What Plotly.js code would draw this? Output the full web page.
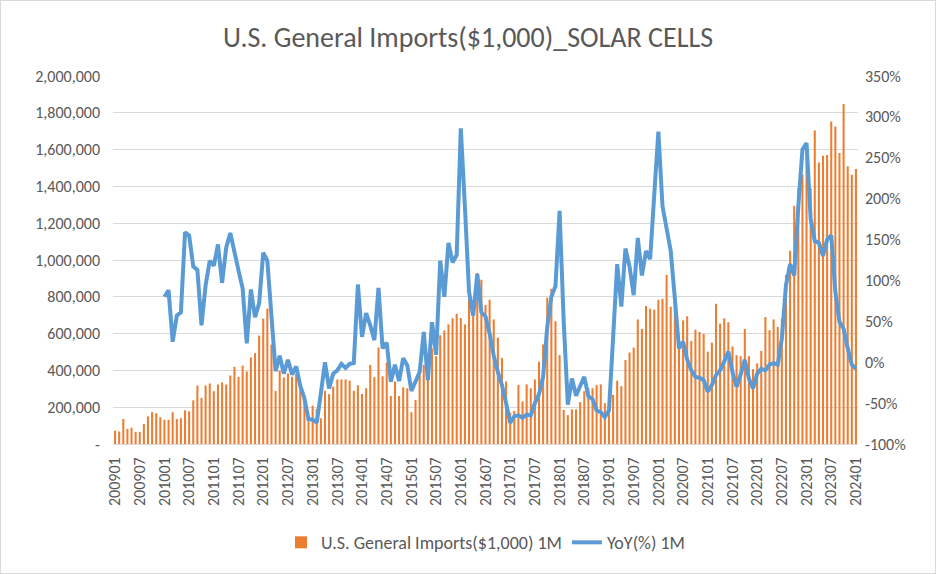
<!DOCTYPE html>
<html>
<head>
<meta charset="utf-8">
<script src="https://cdn.plot.ly/plotly-3.0.1.min.js"></script>
<style>
  html, body { margin: 0; padding: 0; background: #fff; }
  #chart { width: 934px; height: 572px; border: 1px solid #D9D9D9; }
</style>
</head>
<body>
<div id="chart"></div>
<script>
// Month categories 200901 .. 202401
const months = [];
for (let y = 2009; y <= 2024; y++) {
  for (let m = 1; m <= 12; m++) {
    if (y === 2024 && m > 1) break;
    months.push(String(y) + String(m).padStart(2, '0'));
  }
}

// U.S. General Imports ($1,000), monthly
const imports = [
  72000, 68000, 136000, 82000, 88000, 66000, 66000, 109000, 150000, 173000, 167000, 145000,
  131000, 131000, 173000, 136000, 140000, 183000, 177000, 237000, 318000, 251000, 318000, 329000,
  287000, 323000, 335000, 323000, 372000, 419000, 365000, 426000, 394000, 470000, 494000, 589000,
  681000, 736000, 540000, 288000, 399000, 362000, 384000, 366000, 382000, 312000, 254000, 122000,
  209000, 190000, 140000, 289000, 271000, 312000, 351000, 351000, 351000, 344000, 289000, 319000,
  272000, 303000, 430000, 363000, 524000, 368000, 442000, 261000, 340000, 261000, 308000, 303000,
  173000, 240000, 402000, 429000, 483000, 519000, 477000, 591000, 617000, 650000, 683000, 708000,
  685000, 650000, 789000, 770000, 930000, 893000, 756000, 784000, 677000, 578000, 467000, 340000,
  170000, 180000, 321000, 231000, 324000, 303000, 351000, 447000, 541000, 795000, 843000, 667000,
  483000, 185000, 157000, 188000, 188000, 228000, 287000, 303000, 303000, 320000, 324000, 222000,
  205000, 267000, 344000, 314000, 456000, 497000, 524000, 677000, 625000, 750000, 735000, 730000,
  783000, 789000, 919000, 746000, 800000, 580000, 672000, 694000, 560000, 622000, 609000, 598000,
  502000, 551000, 762000, 654000, 683000, 662000, 530000, 483000, 477000, 625000, 477000, 407000,
  438000, 506000, 690000, 618000, 677000, 636000, 680000, 919000, 1050000, 1294000, 1390000, 1465000,
  1610000, 1390000, 1704000, 1530000, 1567000, 1571000, 1753000, 1726000, 1582000, 1848000, 1510000, 1463000,
  1495000
];

// YoY (%), starts 201001
const yoy = [
  null, null, null, null, null, null, null, null, null, null, null, null,
  80, 88, 25, 57, 61, 159, 155, 117, 113, 45, 94, 124,
  118, 144, 97, 140, 158, 133, 112, 90, 23, 89, 55, 72,
  134, 124, 55, -11, 8, -14, 3, -15, -5, -29, -44, -70,
  -70, -74, -38, 0, -32, -14, -10, -2, -7, -2, -1, 95,
  31, 60, 45, 27, 91, 17, 24, -24, -3, -23, 5, -4,
  -35, -23, -12, 37, -22, 49, 9, 124, 80, 146, 122, 131,
  286, 190, 86, 57, 108, 61, 56, 35, 8, -12, -28, -50,
  -74, -66, -65, -68, -64, -65, -50, -39, -18, 43, 80, 93,
  185, 50, -52, -20, -41, -29, -18, -42, -45, -59, -61, -67,
  -59, 30, 120, 68, 139, 117, 82, 152, 106, 136, 126, 205,
  282, 191, 163, 136, 78, 17, 25, 3, -10, -18, -19, -22,
  -36, -28, -16, -10, 1, 13, -12, -30, -15, 3, -20, -32,
  -14, -8, -10, -3, -1, -3, 29, 94, 120, 106, 191, 260,
  268, 175, 148, 146, 130, 150, 155, 86, 49, 41, 17, -3,
  -8
];

// Axis tick labels
const xTicks = months.filter((m, i) => i % 6 === 0);
const leftTickVals = [0, 200000, 400000, 600000, 800000, 1000000, 1200000, 1400000, 1600000, 1800000, 2000000];
const leftTickText = leftTickVals.map(v => v === 0 ? '-' : v.toLocaleString('en-US'));
const rightTickVals = [-100, -50, 0, 50, 100, 150, 200, 250, 300, 350];
const rightTickText = rightTickVals.map(v => v + '%');

const FONT = "Carlito, 'Liberation Sans', Arial, sans-serif";
const GREY = '#595959';

const traces = [
  {
    type: 'bar',
    x: months,
    y: imports,
    name: 'U.S. General Imports($1,000) 1M',
    marker: { color: '#ED7D31' },
    yaxis: 'y'
  },
  {
    type: 'scatter',
    mode: 'lines',
    x: months,
    y: yoy,
    name: 'YoY(%) 1M',
    line: { color: '#5B9BD5', width: 4 },
    yaxis: 'y2',
    connectgaps: false
  }
];

const layout = {
  width: 934,
  height: 572,
  margin: { l: 112, r: 77, t: 75, b: 127 },
  paper_bgcolor: '#fff',
  plot_bgcolor: '#fff',
  font: { family: FONT, color: GREY, size: 16 },
  title: {
    text: 'U.S. General Imports($1,000)_SOLAR CELLS',
    font: { family: FONT, size: 28, color: GREY },
    x: 0.5, xanchor: 'center',
    y: 1 - 36 / 572, yanchor: 'middle', yref: 'container'
  },
  bargap: 0.5,
  showlegend: true,
  legend: {
    orientation: 'h',
    x: 0.5, xanchor: 'center',
    y: -0.268, yanchor: 'middle',
    font: { family: FONT, size: 18, color: GREY },
    traceorder: 'normal'
  },
  xaxis: {
    type: 'category',
    range: [-0.5, months.length - 0.5],
    tickmode: 'array',
    tickvals: xTicks,
    ticktext: xTicks,
    tickangle: -90,
    ticklabelstandoff: 6,
    tickfont: { family: FONT, size: 16, color: GREY },
    showgrid: false,
    showline: true,
    linecolor: '#D9D9D9',
    linewidth: 1,
    ticks: '',
    zeroline: false
  },
  yaxis: {
    range: [0, 2000000],
    tickmode: 'array',
    tickvals: leftTickVals,
    ticktext: leftTickText,
    showgrid: true,
    gridcolor: '#D9D9D9',
    gridwidth: 1,
    zeroline: false,
    ticks: '',
    ticklabelstandoff: 12,
    tickfont: { family: FONT, size: 16, color: GREY }
  },
  yaxis2: {
    overlaying: 'y',
    side: 'right',
    range: [-100, 350],
    tickmode: 'array',
    tickvals: rightTickVals,
    ticktext: rightTickText,
    showgrid: false,
    zeroline: false,
    ticks: '',
    ticklabelstandoff: 6,
    tickfont: { family: FONT, size: 16, color: GREY }
  }
};

Plotly.newPlot('chart', traces, layout, { displayModeBar: false, staticPlot: true });
</script>
</body>
</html>
